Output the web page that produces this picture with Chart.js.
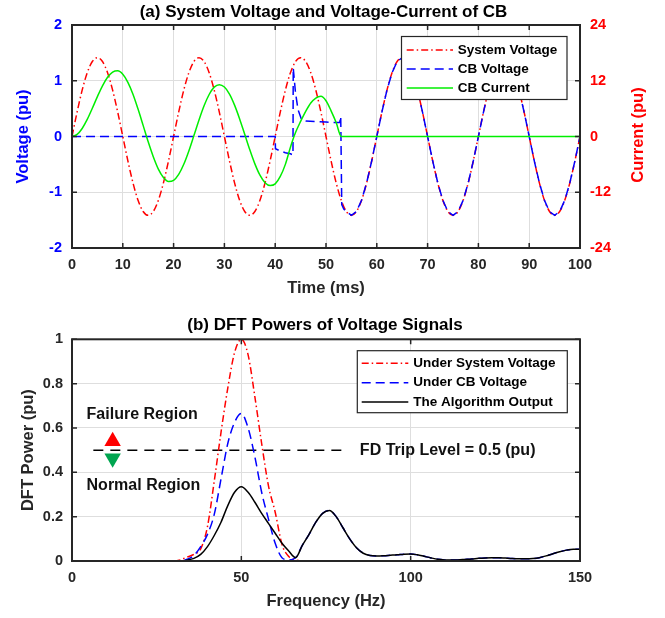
<!DOCTYPE html>
<html>
<head>
<meta charset="utf-8">
<script src="https://cdn.jsdelivr.net/npm/chart.js@4.4.1/dist/chart.umd.min.js"></script>
<style>
  body { margin: 0; background: #fff; }
  #wrap { position: relative; width: 665px; height: 618px; }
  canvas { position: absolute; left: 0; }
</style>
</head>
<body>
<div id="wrap">
  <canvas id="voltageChart" width="665" height="305" style="top:0px"></canvas>
  <canvas id="dftChart" width="665" height="313" style="top:305px"></canvas>
</div>
<script>
// ---------- (a) time signals at 1 ms ----------
const timeMs = [
  0, 1, 2, 3, 4, 5, 6, 7, 8, 9,
  10, 11, 12, 13, 14, 15, 16, 17, 18, 19,
  20, 21, 22, 23, 24, 25, 26, 27, 28, 29,
  30, 31, 32, 33, 34, 35, 36, 37, 38, 39,
  40, 41, 42, 43, 44, 45, 46, 47, 48, 49,
  50, 51, 52, 53, 54, 55, 56, 57, 58, 59,
  60, 61, 62, 63, 64, 65, 66, 67, 68, 69,
  70, 71, 72, 73, 74, 75, 76, 77, 78, 79,
  80, 81, 82, 83, 84, 85, 86, 87, 88, 89,
  90, 91, 92, 93, 94, 95, 96, 97, 98, 99,
  100
];

const systemVoltage = [
  0, 0.437, 0.831, 1.144, 1.345, 1.414, 1.345, 1.144, 0.831, 0.437,
  0, -0.437, -0.831, -1.144, -1.345, -1.414, -1.345, -1.144, -0.831, -0.437,
  0, 0.437, 0.831, 1.144, 1.345, 1.414, 1.345, 1.144, 0.831, 0.437,
  0, -0.437, -0.831, -1.144, -1.345, -1.414, -1.345, -1.144, -0.831, -0.437,
  0, 0.437, 0.831, 1.144, 1.345, 1.414, 1.345, 1.144, 0.831, 0.437,
  0, -0.437, -0.831, -1.144, -1.345, -1.414, -1.345, -1.144, -0.831, -0.437,
  0, 0.437, 0.831, 1.144, 1.345, 1.414, 1.345, 1.144, 0.831, 0.437,
  0, -0.437, -0.831, -1.144, -1.345, -1.414, -1.345, -1.144, -0.831, -0.437,
  0, 0.437, 0.831, 1.144, 1.345, 1.414, 1.345, 1.144, 0.831, 0.437,
  0, -0.437, -0.831, -1.144, -1.345, -1.414, -1.345, -1.144, -0.831, -0.437,
  0
];

// current is in its own units (right axis)
const cbCurrent = [
  0, 0.44, 1.73, 3.68, 6.07, 8.59, 10.91, 12.74, 13.87, 14.14,
  13.39, 11.66, 9.10, 5.90, 2.40, -1.14, -4.34, -7.01, -8.82, -9.67,
  -9.44, -8.17, -5.98, -3.10, 0.20, 3.56, 6.61, 9.04, 10.63, 11.16,
  10.64, 9.13, 6.76, 3.79, 0.47, -2.86, -5.89, -8.33, -9.94, -10.56,
  -10.2, -8.6, -6.0, -2.3, 0.84, 3.24, 5.4, 7.2, 8.28, 8.64,
  7.7, 5.52, 3.0, 0, 0, 0, 0, 0, 0, 0,
  0, 0, 0, 0, 0, 0, 0, 0, 0, 0,
  0, 0, 0, 0, 0, 0, 0, 0, 0, 0,
  0, 0, 0, 0, 0, 0, 0, 0, 0, 0,
  0, 0, 0, 0, 0, 0, 0, 0, 0, 0,
  0
];

// CB voltage has fast transients, so it gets its own time points
const cbVoltageTime = [
  0, 40, 40.05, 41, 42, 43, 43.5, 43.55, 44, 44.5,
  45.2, 46, 48, 50, 52, 52.7, 52.9, 53.1, 53.5, 54,
  55, 56, 57, 58, 59, 60, 61, 62, 63, 64,
  65, 66, 67, 68, 69, 70, 71, 72, 73, 74,
  75, 76, 77, 78, 79, 80, 81, 82, 83, 84,
  85, 86, 87, 88, 89, 90, 91, 92, 93, 94,
  95, 96, 97, 98, 99, 100
];
const cbVoltage = [
  0, 0, -0.22, -0.26, -0.29, -0.31, -0.33, 1.23, 0.78, 0.48,
  0.30, 0.28, 0.27, 0.26, 0.25, 0.25, 0.36, -1.22, -1.30, -1.345,
  -1.414, -1.345, -1.144, -0.831, -0.437, 0, 0.437, 0.831, 1.144, 1.345,
  1.414, 1.345, 1.144, 0.831, 0.437, 0, -0.437, -0.831, -1.144, -1.345,
  -1.414, -1.345, -1.144, -0.831, -0.437, 0, 0.437, 0.831, 1.144, 1.345,
  1.414, 1.345, 1.144, 0.831, 0.437, 0, -0.437, -0.831, -1.144, -1.345,
  -1.414, -1.345, -1.144, -0.831, -0.437, 0
];

// ---------- (b) DFT powers, every 2 Hz ----------
const freqHz = [
  0, 2, 4, 6, 8, 10, 12, 14, 16, 18,
  20, 22, 24, 26, 28, 30, 32, 34, 36, 38,
  40, 42, 44, 46, 48, 50, 52, 54, 56, 58,
  60, 62, 64, 66, 68, 70, 72, 74, 76, 78,
  80, 82, 84, 86, 88, 90, 92, 94, 96, 98,
  100, 102, 104, 106, 108, 110, 112, 114, 116, 118,
  120, 122, 124, 126, 128, 130, 132, 134, 136, 138,
  140, 142, 144, 146, 148, 150
];

const dftSystem = [
  0, 0, 0, 0, 0, 0, 0, 0, 0, 0,
  0, 0, 0, 0, 0, 0, 0.005, 0.018, 0.03, 0.055,
  0.155, 0.36, 0.58, 0.78, 0.94, 1.0, 0.93, 0.74, 0.53, 0.34,
  0.22, 0.075, 0.02, 0.005, 0, 0, 0, 0, 0, 0,
  0, 0, 0, 0, 0, 0, 0, 0, 0, 0,
  0, 0, 0, 0, 0, 0, 0, 0, 0, 0,
  0, 0, 0, 0, 0, 0, 0, 0, 0, 0,
  0, 0, 0, 0, 0, 0
];

const dftCb = [
  0, 0, 0, 0, 0, 0, 0, 0, 0, 0,
  0, 0, 0, 0, 0, 0, 0, 0.008, 0.025, 0.065,
  0.12, 0.21, 0.37, 0.53, 0.625, 0.665, 0.6, 0.47, 0.31, 0.19,
  0.08, 0.015, 0.005, 0.015, 0.07, 0.12, 0.175, 0.215, 0.228, 0.2,
  0.15, 0.1, 0.06, 0.035, 0.025, 0.023, 0.024, 0.026, 0.028, 0.031,
  0.032, 0.028, 0.021, 0.014, 0.008, 0.005, 0.004, 0.005, 0.007, 0.009,
  0.012, 0.014, 0.015, 0.015, 0.013, 0.011, 0.01, 0.01, 0.011, 0.015,
  0.023, 0.033, 0.042, 0.049, 0.053, 0.053
];

const dftAlgorithm = [
  0, 0, 0, 0, 0, 0, 0, 0, 0, 0,
  0, 0, 0, 0, 0, 0, 0, 0.004, 0.012, 0.03,
  0.065, 0.115, 0.175, 0.25, 0.31, 0.335, 0.31, 0.265, 0.215, 0.17,
  0.125, 0.08, 0.045, 0.015, 0.07, 0.12, 0.175, 0.215, 0.228, 0.2,
  0.15, 0.1, 0.06, 0.035, 0.025, 0.023, 0.024, 0.026, 0.028, 0.031,
  0.032, 0.028, 0.021, 0.014, 0.008, 0.005, 0.004, 0.005, 0.007, 0.009,
  0.012, 0.014, 0.015, 0.015, 0.013, 0.011, 0.01, 0.01, 0.011, 0.015,
  0.023, 0.033, 0.042, 0.049, 0.053, 0.053
];

const tripFreq = [6.3, 79.6];
const tripLevel = [0.5, 0.5];
const markerFreq = [12, 12];
const markerPower = [0.54, 0.464];

// ---------- look ----------
const FONT = "'Liberation Sans', Arial, Helvetica, sans-serif";
const INK = '#262626';
const GRID = '#dedede';
const TICK_LEN = 5;
const tickFont = { family: FONT, size: 14.5, weight: 'bold' };
const labelFont = { family: FONT, size: 16.5, weight: 'bold' };

function pts(xs, ys) {
  return xs.map((x, i) => ({ x: x, y: ys[i] }));
}

// MATLAB style box, inward ticks, title, boxed legend and free text
const matlabFrame = {
  id: 'matlabFrame',
  afterDatasetsDraw(chart, args, opts) {
    const ctx = chart.ctx;
    const a = chart.chartArea;
    const sx = chart.scales.x;
    const sy = chart.scales.y;
    ctx.save();

    ctx.strokeStyle = INK;
    ctx.lineWidth = 1.5;
    ctx.beginPath();
    sx.ticks.forEach(t => {
      const px = sx.getPixelForValue(t.value);
      ctx.moveTo(px, a.bottom); ctx.lineTo(px, a.bottom - TICK_LEN);
      ctx.moveTo(px, a.top); ctx.lineTo(px, a.top + TICK_LEN);
    });
    sy.ticks.forEach(t => {
      const py = sy.getPixelForValue(t.value);
      ctx.moveTo(a.left, py); ctx.lineTo(a.left + TICK_LEN, py);
      ctx.moveTo(a.right, py); ctx.lineTo(a.right - TICK_LEN, py);
    });
    ctx.stroke();
    ctx.lineWidth = 2;
    ctx.strokeRect(a.left, a.top, a.right - a.left, a.bottom - a.top);

    ctx.textBaseline = 'middle';

    // title centred over the axes
    if (opts.title) {
      ctx.font = 'bold 17px ' + FONT;
      ctx.fillStyle = '#000';
      ctx.textAlign = 'center';
      ctx.fillText(opts.title.text, opts.title.x, opts.title.y);
    }

    // notes placed in data units
    (opts.notes || []).forEach(n => {
      ctx.font = 'bold ' + n.size + 'px ' + FONT;
      ctx.fillStyle = '#111';
      ctx.textAlign = 'left';
      ctx.fillText(n.text, sx.getPixelForValue(n.x), sy.getPixelForValue(n.y));
    });

    // side label drawn bottom-to-top (right axis)
    if (opts.sideLabel) {
      const s = opts.sideLabel;
      ctx.save();
      ctx.translate(s.x, s.y);
      ctx.rotate(-Math.PI / 2);
      ctx.font = 'bold ' + labelFont.size + 'px ' + FONT;
      ctx.fillStyle = s.color;
      ctx.textAlign = 'center';
      ctx.fillText(s.text, 0, 0);
      ctx.restore();
    }

    const lg = opts.legend;
    if (lg) {
      ctx.fillStyle = '#fff';
      ctx.fillRect(lg.left, lg.top, lg.width, lg.height);
      ctx.strokeStyle = INK;
      ctx.lineWidth = 1.2;
      ctx.strokeRect(lg.left, lg.top, lg.width, lg.height);
      ctx.font = 'bold ' + lg.fontSize + 'px ' + FONT;
      ctx.textAlign = 'left';
      chart.data.datasets.filter(d => d.inLegend).forEach((d, i) => {
        const y = lg.top + lg.firstRow + i * lg.rowGap;
        ctx.strokeStyle = d.borderColor;
        ctx.lineWidth = d.borderWidth;
        ctx.setLineDash(d.borderDash || []);
        ctx.beginPath();
        ctx.moveTo(lg.lineFrom, y);
        ctx.lineTo(lg.lineTo, y);
        ctx.stroke();
        ctx.setLineDash([]);
        ctx.fillStyle = '#000';
        ctx.fillText(d.label, lg.textX, y);
      });
    }
    ctx.restore();
  }
};

// ---------- chart (a) ----------
new Chart(document.getElementById('voltageChart'), {
  type: 'line',
  data: {
    datasets: [
      {
        label: 'System Voltage', inLegend: true,
        data: pts(timeMs, systemVoltage), yAxisID: 'y',
        borderColor: '#ff0000', borderWidth: 1.5, borderDash: [7, 3, 1.5, 3],
        cubicInterpolationMode: 'monotone', order: 3
      },
      {
        label: 'CB Voltage', inLegend: true,
        data: pts(cbVoltageTime, cbVoltage), yAxisID: 'y',
        borderColor: '#0000ff', borderWidth: 1.5, borderDash: [9, 5],
        order: 2
      },
      {
        label: 'CB Current', inLegend: true,
        data: pts(timeMs, cbCurrent), yAxisID: 'y1',
        borderColor: '#00ee00', borderWidth: 1.5,
        cubicInterpolationMode: 'monotone', order: 1
      }
    ]
  },
  options: {
    responsive: false,
    animation: false,
    elements: { point: { radius: 0 }, line: { tension: 0 } },
    layout: { padding: { left: 0, right: 0, top: 25, bottom: 0 } },
    plugins: {
      legend: { display: false },
      tooltip: { enabled: false },
      title: { display: false },
      matlabFrame: {
        title: { text: '(a) System Voltage and Voltage-Current of CB', x: 323.5, y: 12 },
        legend: {
          left: 401.5, top: 36.5, width: 165.5, height: 63,
          firstRow: 13.5, rowGap: 19, lineFrom: 406.7, lineTo: 453, textX: 457.7, fontSize: 13.5
        },
        sideLabel: { text: 'Current (pu)', x: 638.3, y: 135, color: '#ff0000' }
      }
    },
    scales: {
      x: {
        type: 'linear', min: 0, max: 100,
        ticks: { stepSize: 10, color: INK, font: tickFont, padding: 8, maxRotation: 0 },
        grid: { color: GRID, drawTicks: false },
        border: { display: false },
        title: { display: true, text: 'Time (ms)', color: INK, font: labelFont, padding: { top: 0, bottom: 6.6 } },
        afterFit: s => { s.height = 57; }
      },
      y: {
        position: 'left', min: -2, max: 2,
        ticks: { stepSize: 1, color: '#0000ff', font: tickFont, padding: 10 },
        grid: { color: GRID, drawTicks: false },
        border: { display: false },
        title: { display: true, text: 'Voltage (pu)', color: '#0000ff', font: labelFont, padding: { top: 14, bottom: 0 } },
        afterFit: s => { s.width = 72; }
      },
      y1: {
        position: 'right', min: -24, max: 24,
        ticks: { stepSize: 12, color: '#ff0000', font: tickFont, padding: 10 },
        grid: { drawOnChartArea: false, drawTicks: false },
        border: { display: false },
        afterFit: s => { s.width = 85; }
      }
    }
  },
  plugins: [matlabFrame]
});

// ---------- chart (b) ----------
new Chart(document.getElementById('dftChart'), {
  type: 'line',
  data: {
    datasets: [
      {
        label: 'Under System Voltage', inLegend: true,
        data: pts(freqHz, dftSystem),
        borderColor: '#ff0000', borderWidth: 1.5, borderDash: [7, 3, 1.5, 3],
        cubicInterpolationMode: 'monotone', order: 3
      },
      {
        label: 'Under CB Voltage', inLegend: true,
        data: pts(freqHz, dftCb),
        borderColor: '#0000ff', borderWidth: 1.5, borderDash: [9, 5],
        cubicInterpolationMode: 'monotone', order: 2
      },
      {
        label: 'The Algorithm Output', inLegend: true,
        data: pts(freqHz, dftAlgorithm),
        borderColor: '#000000', borderWidth: 1.5,
        cubicInterpolationMode: 'monotone', order: 1
      },
      {
        label: 'trip',
        data: pts(tripFreq, tripLevel),
        borderColor: '#000000', borderWidth: 1.5, borderDash: [10, 7],
        order: 4
      },
      {
        label: 'regions',
        data: pts(markerFreq, markerPower),
        showLine: false,
        pointStyle: 'triangle',
        pointRadius: 9.5,
        pointRotation: [0, 180],
        pointBackgroundColor: ['#ff0000', '#00a550'],
        pointBorderWidth: 0,
        order: 0
      }
    ]
  },
  options: {
    responsive: false,
    animation: false,
    elements: { point: { radius: 0 }, line: { tension: 0 } },
    layout: { padding: { left: 0, right: 85, top: 34.3, bottom: 0 } },
    plugins: {
      legend: { display: false },
      tooltip: { enabled: false },
      title: { display: false },
      matlabFrame: {
        title: { text: '(b) DFT Powers of Voltage Signals', x: 325, y: 20 },
        legend: {
          left: 357.3, top: 45.7, width: 210, height: 62,
          firstRow: 12.6, rowGap: 19.4, lineFrom: 361.7, lineTo: 408.3, textX: 413.3, fontSize: 13.5
        },
        notes: [
          { text: 'Failure Region', x: 4.3, y: 0.659, size: 16 },
          { text: 'Normal Region', x: 4.3, y: 0.338, size: 16 },
          { text: 'FD Trip Level = 0.5 (pu)', x: 85, y: 0.5, size: 16 }
        ]
      }
    },
    scales: {
      x: {
        type: 'linear', min: 0, max: 150,
        ticks: { stepSize: 50, color: INK, font: tickFont, padding: 8, maxRotation: 0 },
        grid: { color: GRID, drawTicks: false },
        border: { display: false },
        title: { display: true, text: 'Frequency (Hz)', color: INK, font: labelFont, padding: { top: 0, bottom: 6.4 } },
        afterFit: s => { s.height = 57; }
      },
      y: {
        position: 'left', min: 0, max: 1,
        ticks: {
          stepSize: 0.2, color: INK, font: tickFont, padding: 9,
          callback: value => String(Number(value.toFixed(2)))
        },
        grid: { color: GRID, drawTicks: false },
        border: { display: false },
        title: { display: true, text: 'DFT Power (pu)', color: INK, font: labelFont, padding: { top: 18.4, bottom: 0 } },
        afterFit: s => { s.width = 72; }
      }
    }
  },
  plugins: [matlabFrame]
});
</script>
</body>
</html>
